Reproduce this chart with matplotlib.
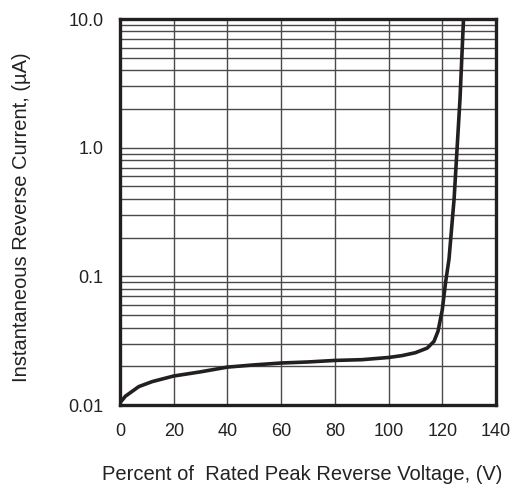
import matplotlib
matplotlib.use("Agg")
import matplotlib.pyplot as plt
from matplotlib.ticker import FixedLocator, NullFormatter, LogLocator

percent_voltage = [0, 2, 7, 12, 20, 30, 40, 50, 60, 70, 80, 90, 100, 105, 110,
                   114.4, 116.9, 118.4, 120.0, 121.2, 122.5, 124.4, 126.6, 127.9]
reverse_current = [0.0104, 0.0117, 0.0139, 0.0152, 0.0168, 0.0181, 0.0197, 0.0205,
                   0.0212, 0.0216, 0.0222, 0.0225, 0.0234, 0.0242, 0.0255,
                   0.0277, 0.0312, 0.0374, 0.055, 0.089, 0.136, 0.4, 2.4, 10.0]
x_ticks = [0, 20, 40, 60, 80, 100, 120, 140]
y_ticks = [0.01, 0.1, 1.0, 10.0]
y_tick_labels = ["0.01", "0.1", "1.0", "10.0"]

plt.rcParams['font.family'] = ['Liberation Sans', 'DejaVu Sans']

fig = plt.figure(figsize=(5.31, 4.88), dpi=100)
ax = fig.add_axes([120/531, 1-405/488, 376/531, 386/488])

ax.set_yscale('log')
ax.set_xlim(0, 140)
ax.set_ylim(0.01, 10.0)

ax.xaxis.set_major_locator(FixedLocator(x_ticks))
ax.set_xticklabels([str(v) for v in x_ticks])
ax.yaxis.set_major_locator(FixedLocator(y_ticks))
ax.set_yticklabels(y_tick_labels)
ax.yaxis.set_minor_locator(LogLocator(base=10, subs=range(2, 10)))
ax.yaxis.set_minor_formatter(NullFormatter())

ax.grid(True, which='major', axis='both', color='#4a4a4a', linewidth=1.0)
ax.grid(True, which='minor', axis='y', color='#4a4a4a', linewidth=1.0)
ax.set_axisbelow(True)

ax.tick_params(which='both', length=0, labelsize=13, colors='#222222')
ax.tick_params(axis='y', pad=12)
ax.tick_params(axis='x', pad=13)

for s in ax.spines.values():
    s.set_linewidth(2.4)
    s.set_color('#231f20')

ax.plot(percent_voltage, reverse_current, color='#231f20', linewidth=2.6,
        solid_joinstyle='round', solid_capstyle='butt', clip_on=True)

ax.set_xlabel("Percent of  Rated Peak Reverse Voltage, (V)", fontsize=14.5,
              color='#222222', va='center')
ax.set_ylabel("Instantaneous Reverse Current, (\u00b5A)", fontsize=14.5,
              color='#222222', va='center')
ax.xaxis.set_label_coords(0.484, -(475-405)/386)
ax.yaxis.set_label_coords((22-120)/376, (405-217)/386)

fig.savefig("out.png", dpi=100)
